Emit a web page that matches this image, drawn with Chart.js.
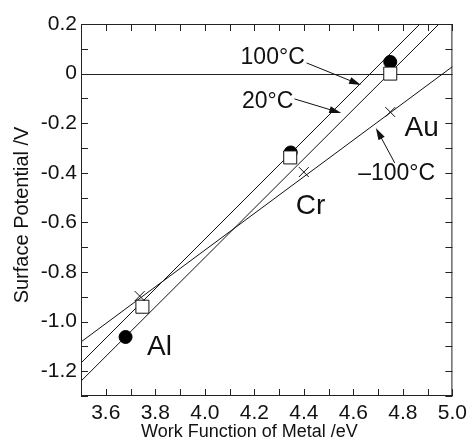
<!DOCTYPE html>
<html>
<head>
<meta charset="utf-8">
<script src="https://cdn.jsdelivr.net/npm/chart.js@4/dist/chart.umd.min.js"></script>
<style>
html, body { margin: 0; padding: 0; background: #fff; }
#grafico { display: block; }
</style>
</head>
<body>
<canvas id="grafico" width="472" height="444"></canvas>
<script>
// measured points: filled circle = 100°C, open square = 20°C, cross = -100°C
var metais = ['Al', 'Cr', 'Au'];
var wf100 = [3.68, 4.347, 4.749];
var pot100 = [-1.062, -0.318, 0.047];
var wf20 = [3.748, 4.345, 4.749];
var pot20 = [-0.94, -0.338, 0.0];
var wfMenos100 = [3.737, 4.40, 4.749];
var potMenos100 = [-0.897, -0.397, -0.155];

// fitted lines, read where they meet the frame
var reta100X = [3.5, 4.869];
var reta100Y = [-1.167, 0.2];
var reta20X = [3.5, 4.946];
var reta20Y = [-1.24, 0.2];
var retaMenos100X = [3.5, 5.0];
var retaMenos100Y = [-1.082, 0.028];

var rotulosX = [3.6, 3.8, 4.0, 4.2, 4.4, 4.6, 4.8, 5.0];
var rotulosY = [0.2, 0, -0.2, -0.4, -0.6, -0.8, -1.0, -1.2];
var tituloX = 'Work Function of Metal /eV';
var tituloY = 'Surface Potential /V';

// text notes and arrows, in data units
var notas = [
	{ texto: '100°C', x: 4.274, y: 0.063, tam: 23 },
	{ texto: '20°C', x: 4.254, y: -0.112, tam: 23 },
	{ texto: '\u2013100°C', x: 4.775, y: -0.405, tam: 23 },
	{ texto: 'Au', x: 4.876, y: -0.219, tam: 28 },
	{ texto: 'Cr', x: 4.427, y: -0.534, tam: 28 },
	{ texto: 'Al', x: 3.817, y: -1.102, tam: 28 }
];
var setas = [
	{ de: [4.411, 0.043], ate: [4.631, -0.046] },
	{ de: [4.362, -0.102], ate: [4.551, -0.159] },
	{ de: [4.767, -0.36], ate: [4.691, -0.219] }
];

var fonte = '"Liberation Sans", Arial, Helvetica, sans-serif';

function pares(xs, ys) {
	return xs.map(function(v, i) { return { x: v, y: ys[i] }; });
}

function temRotulo(lista, v) {
	for (var i = 0; i < lista.length; i++) {
		if (Math.abs(lista[i] - v) < 1e-6) return true;
	}
	return false;
}

var moldura = {
	id: 'moldura',
	beforeDatasetsDraw: function(chart) {
		var ctx = chart.ctx, a = chart.chartArea, y0 = chart.scales.y.getPixelForValue(0);
		ctx.save();
		ctx.strokeStyle = '#222';
		ctx.lineWidth = 1;
		ctx.beginPath();
		ctx.moveTo(a.left, Math.round(y0) + 0.5);
		ctx.lineTo(a.right, Math.round(y0) + 0.5);
		ctx.stroke();
		ctx.restore();
	},
	afterDatasetsDraw: function(chart) {
		var ctx = chart.ctx, a = chart.chartArea;
		var sx = chart.scales.x, sy = chart.scales.y;
		var tick = 7;
		ctx.save();
		ctx.strokeStyle = '#222';
		ctx.lineWidth = 1;
		ctx.strokeRect(a.left + 0.5, a.top + 0.5, a.right - a.left - 1, a.bottom - a.top - 1);
		ctx.beginPath();
		sx.ticks.forEach(function(t) {
			var px = Math.round(sx.getPixelForValue(t.value)) + 0.5;
			ctx.moveTo(px, a.bottom); ctx.lineTo(px, a.bottom - tick);
			ctx.moveTo(px, a.top); ctx.lineTo(px, a.top + tick);
		});
		sy.ticks.forEach(function(t) {
			var py = Math.round(sy.getPixelForValue(t.value)) + 0.5;
			ctx.moveTo(a.left, py); ctx.lineTo(a.left + tick, py);
			ctx.moveTo(a.right, py); ctx.lineTo(a.right - tick, py);
		});
		ctx.stroke();

		// arrows
		ctx.fillStyle = '#111';
		ctx.strokeStyle = '#111';
		setas.forEach(function(s) {
			var x1 = sx.getPixelForValue(s.de[0]), y1 = sy.getPixelForValue(s.de[1]);
			var x2 = sx.getPixelForValue(s.ate[0]), y2 = sy.getPixelForValue(s.ate[1]);
			var ang = Math.atan2(y2 - y1, x2 - x1);
			ctx.beginPath();
			ctx.moveTo(x1, y1);
			ctx.lineTo(x2 - 8 * Math.cos(ang), y2 - 8 * Math.sin(ang));
			ctx.stroke();
			ctx.beginPath();
			ctx.moveTo(x2, y2);
			ctx.lineTo(x2 - 12 * Math.cos(ang) + 3.5 * Math.sin(ang), y2 - 12 * Math.sin(ang) - 3.5 * Math.cos(ang));
			ctx.lineTo(x2 - 12 * Math.cos(ang) - 3.5 * Math.sin(ang), y2 - 12 * Math.sin(ang) + 3.5 * Math.cos(ang));
			ctx.closePath();
			ctx.fill();
		});

		// notes
		ctx.textAlign = 'center';
		ctx.textBaseline = 'middle';
		notas.forEach(function(n) {
			ctx.font = n.tam + 'px ' + fonte;
			ctx.fillText(n.texto, sx.getPixelForValue(n.x), sy.getPixelForValue(n.y));
		});

		// axis titles (x one sits a bit left of the plot centre in the original)
		ctx.font = '18px ' + fonte;
		ctx.fillText(tituloX, sx.getPixelForValue(4.18), 432);
		ctx.translate(22, sy.getPixelForValue(-0.57));
		ctx.rotate(-Math.PI / 2);
		ctx.font = '20px ' + fonte;
		ctx.fillText(tituloY, 0, 0);
		ctx.restore();
	}
};

var grafico = new Chart(document.getElementById('grafico').getContext('2d'), {
	type: 'scatter',
	data: {
		datasets: [
			{
				label: '-100°C',
				data: pares(wfMenos100, potMenos100),
				pointStyle: 'crossRot',
				pointRadius: 7,
				borderColor: '#111',
				borderWidth: 1,
				order: 1
			},
			{
				label: '20°C',
				data: pares(wf20, pot20),
				pointStyle: 'rect',
				pointRadius: 9.2,
				backgroundColor: '#fff',
				borderColor: '#111',
				borderWidth: 1,
				order: 2
			},
			{
				label: '100°C',
				data: pares(wf100, pot100),
				pointStyle: 'circle',
				pointRadius: 6.5,
				backgroundColor: '#000',
				borderColor: '#000',
				borderWidth: 1,
				order: 3
			},
			{
				type: 'line',
				label: 'ajuste 100°C',
				data: pares(reta100X, reta100Y),
				borderColor: '#111',
				borderWidth: 1,
				pointRadius: 0,
				order: 4
			},
			{
				type: 'line',
				label: 'ajuste 20°C',
				data: pares(reta20X, reta20Y),
				borderColor: '#111',
				borderWidth: 1,
				pointRadius: 0,
				order: 4
			},
			{
				type: 'line',
				label: 'ajuste -100°C',
				data: pares(retaMenos100X, retaMenos100Y),
				borderColor: '#111',
				borderWidth: 1,
				pointRadius: 0,
				order: 4
			}
		]
	},
	options: {
		responsive: false,
		animation: false,
		layout: { padding: { left: 0, top: 24, right: 17, bottom: 0 } },
		plugins: {
			legend: { display: false },
			tooltip: { enabled: false }
		},
		scales: {
			x: {
				type: 'linear',
				min: 3.5,
				max: 5.0,
				grid: { display: false, drawTicks: false, tickLength: 0 },
				border: { display: false },
				ticks: {
					stepSize: 0.1,
					autoSkip: false,
					maxRotation: 0,
					padding: 5,
					color: '#111',
					font: { family: fonte, size: 21 },
					callback: function(v) {
						return temRotulo(rotulosX, v) ? v.toFixed(1) : '';
					}
				},
				afterFit: function(s) { s.height = 48; }
			},
			y: {
				min: -1.3,
				max: 0.2,
				grid: { display: false, drawTicks: false, tickLength: 0 },
				border: { display: false },
				ticks: {
					stepSize: 0.1,
					autoSkip: false,
					padding: 4,
					color: '#111',
					font: { family: fonte, size: 21 },
					callback: function(v) {
						if (!temRotulo(rotulosY, v)) return '';
						return Math.abs(v) < 1e-6 ? '0' : v.toFixed(1);
					}
				},
				afterFit: function(s) { s.width = 81; }
			}
		}
	},
	plugins: [moldura]
});
</script>
</body>
</html>
